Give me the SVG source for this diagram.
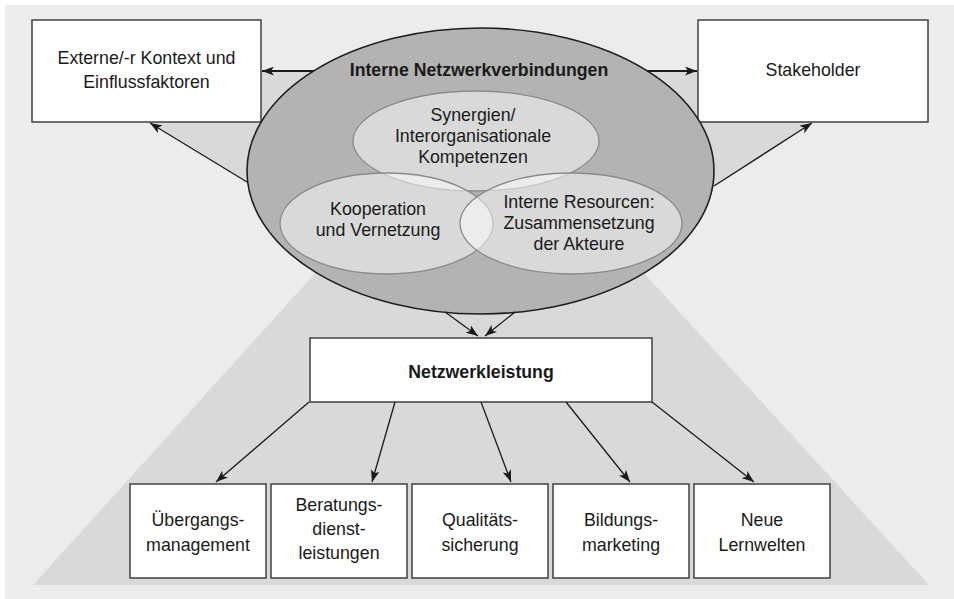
<svg xmlns="http://www.w3.org/2000/svg" width="954" height="599" viewBox="0 0 954 599">
<defs>
<marker id="ah" markerWidth="13" markerHeight="9" refX="12" refY="4.5" orient="auto" markerUnits="userSpaceOnUse">
<path d="M0,0 L12,4.5 L0,9 L3,4.5 z" fill="#1a1a1a"/>
</marker>
<style>
.t{font-family:"Liberation Sans",Arial,sans-serif;font-size:17.8px;fill:#1a1a1a;text-anchor:middle}
.b{font-weight:bold;font-size:17.7px}
.box{fill:#ffffff;stroke:#404040;stroke-width:1.5}
.inner{fill:#ffffff;fill-opacity:0.5;stroke:#8a8a8a;stroke-width:1.3}
.shade{fill:#d9d9d9}
.c{stroke:#1a1a1a;stroke-width:1.3;fill:none;marker-end:url(#ah)}
.ch{stroke:#1a1a1a;stroke-width:2;fill:none;marker-end:url(#ah)}
</style>
</defs>
<rect x="5" y="5" width="949" height="594" fill="#ececec"/>
<g id="shading">
<polygon class="shade" points="327,260 632,260 929,585 33,585"/>
<polygon class="shade" points="150,122 261,122 261,71 340,71 340,182 247,182"/>
<polygon class="shade" points="812,122 698,122 698,71 620,71 620,186 714,186"/>
</g>
<g id="kontext">
<rect class="box" x="32" y="20" width="229" height="102"/>
<text class="t" x="146.5" y="64">Externe/-r Kontext und</text>
<text class="t" x="146.5" y="88">Einflussfaktoren</text>
</g>
<g id="stakeholder">
<rect class="box" x="698" y="20" width="230" height="102"/>
<text class="t" x="813" y="76">Stakeholder</text>
</g>
<g id="netzwerkverbindungen">
<ellipse cx="480.5" cy="171" rx="233.5" ry="143" fill="#b3b3b3" stroke="#1e1e1e" stroke-width="1.6"/>
<text class="t b" x="479" y="76">Interne Netzwerkverbindungen</text>
</g>
<g id="synergien">
<ellipse class="inner" cx="476" cy="141" rx="123" ry="50"/>
<text class="t" x="473" y="121">Synergien/</text>
<text class="t" x="473" y="142">Interorganisationale</text>
<text class="t" x="473" y="163">Kompetenzen</text>
</g>
<g id="kooperation">
<ellipse class="inner" cx="386.5" cy="223.5" rx="106.5" ry="50.5"/>
<text class="t" x="378" y="215">Kooperation</text>
<text class="t" x="378" y="236">und Vernetzung</text>
</g>
<g id="resourcen">
<ellipse class="inner" cx="571" cy="223.5" rx="111" ry="50.5"/>
<text class="t" x="579" y="208">Interne Resourcen:</text>
<text class="t" x="579" y="229">Zusammensetzung</text>
<text class="t" x="579" y="250">der Akteure</text>
</g>
<g id="netzwerkleistung">
<rect class="box" x="310" y="338" width="342" height="64"/>
<text class="t b" x="481" y="378">Netzwerkleistung</text>
</g>
<g id="uebergang">
<rect class="box" x="130" y="484" width="136" height="94"/>
<text class="t" x="198" y="526">Übergangs-</text>
<text class="t" x="198" y="551">management</text>
</g>
<g id="beratung">
<rect class="box" x="271" y="484" width="136" height="94"/>
<text class="t" x="339" y="511">Beratungs-</text>
<text class="t" x="339" y="535">dienst-</text>
<text class="t" x="339" y="559">leistungen</text>
</g>
<g id="qualitaet">
<rect class="box" x="412" y="484" width="136" height="94"/>
<text class="t" x="480" y="526">Qualitäts-</text>
<text class="t" x="480" y="551">sicherung</text>
</g>
<g id="bildung">
<rect class="box" x="553" y="484" width="136" height="94"/>
<text class="t" x="621" y="526">Bildungs-</text>
<text class="t" x="621" y="551">marketing</text>
</g>
<g id="lernwelten">
<rect class="box" x="694" y="484" width="136" height="94"/>
<text class="t" x="762" y="526">Neue</text>
<text class="t" x="762" y="551">Lernwelten</text>
</g>
<g id="connectors">
<line class="ch" x1="314" y1="71" x2="262" y2="71"/>
<line class="ch" x1="647" y1="71" x2="697" y2="71"/>
<line class="c" x1="247" y1="182" x2="150" y2="123"/>
<line class="c" x1="714" y1="186" x2="812" y2="123"/>
<line class="c" x1="445" y1="312" x2="478" y2="336"/>
<line class="c" x1="515" y1="312" x2="485" y2="336"/>
<line class="c" x1="309" y1="402" x2="216" y2="482"/>
<line class="c" x1="395" y1="402" x2="372" y2="482"/>
<line class="c" x1="481" y1="402" x2="511" y2="482"/>
<line class="c" x1="566" y1="402" x2="630" y2="482"/>
<line class="c" x1="652" y1="402" x2="754" y2="482"/>
</g>
</svg>
